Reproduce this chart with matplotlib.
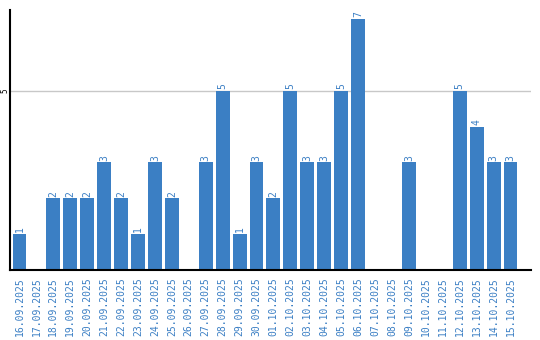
import matplotlib
matplotlib.use('Agg')
import matplotlib.pyplot as plt

dates = ['16.09.2025', '17.09.2025', '18.09.2025', '19.09.2025', '20.09.2025',
         '21.09.2025', '22.09.2025', '23.09.2025', '24.09.2025', '25.09.2025',
         '26.09.2025', '27.09.2025', '28.09.2025', '29.09.2025', '30.09.2025',
         '01.10.2025', '02.10.2025', '03.10.2025', '04.10.2025', '05.10.2025',
         '06.10.2025', '07.10.2025', '08.10.2025', '09.10.2025', '10.10.2025',
         '11.10.2025', '12.10.2025', '13.10.2025', '14.10.2025', '15.10.2025']
counts = [1, 0, 2, 2, 2, 3, 2, 1, 3, 2,
          0, 3, 5, 1, 3, 2, 5, 3, 3, 5,
          7, 0, 0, 3, 0, 0, 5, 4, 3, 3]
y_ticks = [5]

blue = '#3b7fc4'

fig = plt.figure(figsize=(5.4, 3.4), dpi=100)
ax = fig.add_axes([0.0194, 0.206, 0.9636, 0.765])

x = list(range(len(dates)))
ax.bar(x, counts, width=0.82, color=blue, zorder=2)

# value labels above non-empty bars
for xi, v in zip(x, counts):
    if v > 0:
        ax.text(xi, v + 0.05, str(v), rotation=90, ha='center', va='bottom',
                fontsize=7, color=blue, family='DejaVu Sans Mono')

ax.set_xlim(-0.53, 30.2)
ax.set_ylim(0, 7.26)
ax.set_xticks(x)
ax.set_xticklabels(dates, rotation=90, fontsize=7, color=blue, family='DejaVu Sans Mono')
ax.set_yticks(y_ticks)
ax.set_yticklabels([str(t) for t in y_ticks], rotation=90, fontsize=5.5,
                   family='DejaVu Sans Mono', va='center')
ax.tick_params(axis='both', length=0)
ax.tick_params(axis='x', pad=5)
ax.tick_params(axis='y', pad=1)
ax.grid(True, axis='y', color='#c8c8c8', linewidth=1, zorder=0)

for side in ['top', 'right']:
    ax.spines[side].set_visible(False)
for side in ['left', 'bottom']:
    ax.spines[side].set_linewidth(1.5)
    ax.spines[side].set_zorder(3)

plt.savefig('out.png', dpi=100)
plt.close()
